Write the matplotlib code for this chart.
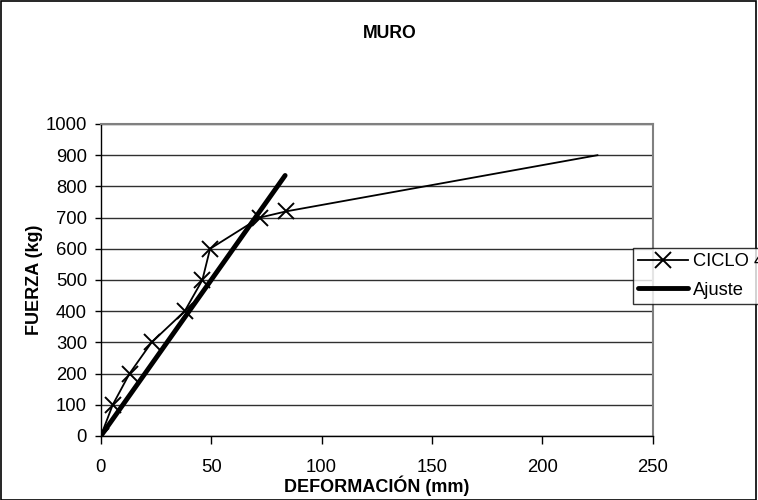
# -*- coding: utf-8 -*-

import numpy as np
import matplotlib
matplotlib.use('Agg')
import matplotlib.pyplot as plt
from matplotlib.patches import Rectangle

# Ciclo 4: deformacion (mm) vs fuerza (kg)
ciclo_def = [0, 5.4, 13, 23, 38, 46, 49.5, 72, 84, 225]
ciclo_fza = [0, 100, 200, 300, 400, 500, 600, 700, 720, 900]

# Ajuste lineal
ajuste_def = [0, 83.5]
ajuste_fza = [0, 835]

x_ticks = [0, 50, 100, 150, 200, 250]
y_ticks = [0, 100, 200, 300, 400, 500, 600, 700, 800, 900, 1000]


def main():
    plt.rcParams['font.family'] = ['Liberation Sans', 'DejaVu Sans']

    fig = plt.figure(figsize=(7.58, 5.0), dpi=100)
    ax = fig.add_axes([0.133, 0.128, 0.728, 0.624])

    n_pts = len(ciclo_def)
    ax.plot(ciclo_def, ciclo_fza, color='black', lw=1.3, marker='x',
            ms=11, mew=1.4, markevery=list(range(n_pts - 1)),
            label='CICLO 4', zorder=3)
    ax.plot(ajuste_def, ajuste_fza, color='black', lw=3.5,
            solid_capstyle='round', label='Ajuste', zorder=4)

    ax.set_xlim(0, 250)
    ax.set_ylim(0, 1000)
    ax.set_xticks(x_ticks)
    ax.set_yticks(y_ticks)
    ax.tick_params(labelsize=13.3, width=1, direction='out')
    ax.tick_params(axis='x', length=5.5, pad=11)
    ax.tick_params(axis='y', length=4, pad=6)

    ax.yaxis.grid(True, color='#303030', lw=1)
    ax.set_axisbelow(True)

    for sp in ('top', 'right'):
        ax.spines[sp].set_color('#808080')
        ax.spines[sp].set_linewidth(1.5)
    for sp in ('left', 'bottom'):
        ax.spines[sp].set_color('black')
        ax.spines[sp].set_linewidth(1)

    ax.set_xlabel(u'DEFORMACIÓN (mm)', fontsize=13, fontweight='bold',
                  labelpad=0)
    ax.set_ylabel('FUERZA (kg)', fontsize=13, fontweight='bold',
                  labelpad=2)

    fig.text(0.514, 0.934, 'MURO', ha='center', va='center',
             fontsize=12.7, fontweight='bold')

    # legend sits at the right edge and is cut off, as in the original
    leg = fig.legend(loc='upper left', bbox_to_anchor=(0.835, 0.504),
                     fontsize=13.2, frameon=True, fancybox=False,
                     handlelength=2.7, handletextpad=0.25,
                     borderpad=0.3, labelspacing=0.62, borderaxespad=0)
    leg.get_frame().set_edgecolor('black')
    leg.get_frame().set_linewidth(1)

    fig.patches.append(Rectangle((0.001, 0.001), 0.997, 0.997,
                                 transform=fig.transFigure, fill=False,
                                 edgecolor='black', lw=1.2))

    fig.savefig('out.png', dpi=100)
    plt.close()
    return


if __name__ == '__main__':
    main()
